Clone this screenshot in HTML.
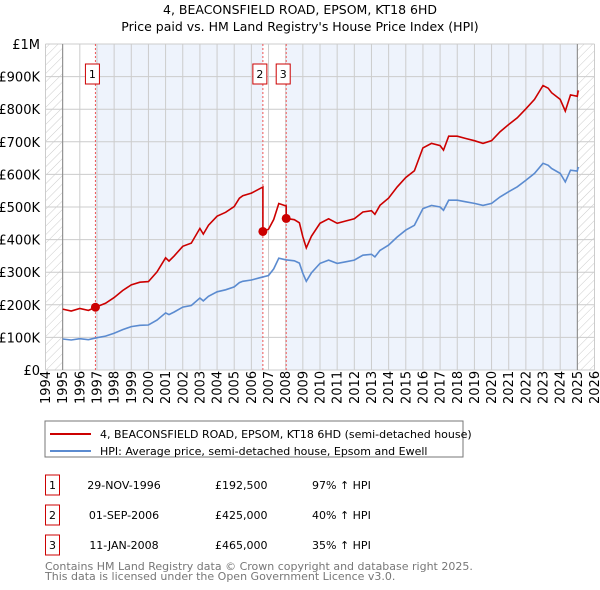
<!DOCTYPE html>
<html><head><meta charset="utf-8"><style>
body{margin:0;background:#fff;font-family:"DejaVu Sans","Liberation Sans",sans-serif;}
svg{display:block}
</style></head><body>
<svg id="c" width="600" height="590" font-family="DejaVu Sans, Liberation Sans, sans-serif">
<defs><pattern id="hatch" width="6" height="6" patternUnits="userSpaceOnUse" patternTransform="rotate(45)"><line x1="0" y1="0" x2="0" y2="6" stroke="#ccc" stroke-width="1"/></pattern></defs>
<text x="300" y="14" text-anchor="middle" font-size="12.5">4, BEACONSFIELD ROAD, EPSOM, KT18 6HD</text>
<text x="300" y="31" text-anchor="middle" font-size="12.5">Price paid vs. HM Land Registry's House Price Index (HPI)</text>
<g id="plot"></g>
<rect x="45" y="421" width="418" height="36" fill="#fff" stroke="#777"/>
<line x1="50" y1="434" x2="91" y2="434" stroke="#cc0000" stroke-width="2"/>
<text x="100" y="438" font-size="11">4, BEACONSFIELD ROAD, EPSOM, KT18 6HD (semi-detached house)</text>
<line x1="50" y1="451" x2="91" y2="451" stroke="#5b8bd0" stroke-width="2"/>
<text x="100" y="455" font-size="11">HPI: Average price, semi-detached house, Epsom and Ewell</text>
<g font-size="11" id="tbl"></g>
<text x="45" y="570" font-size="11" fill="#777">Contains HM Land Registry data © Crown copyright and database right 2025.</text>
<text x="45" y="580" font-size="11" fill="#777">This data is licensed under the Open Government Licence v3.0.</text>
</svg>
<script>
const hpiYears=[1995,1995.5,1996,1996.5,1997,1997.5,1998,1998.5,1999,1999.5,2000,2000.5,2001,2001.2,2001.5,2002,2002.5,2003,2003.2,2003.5,2004,2004.5,2005,2005.3,2005.5,2006,2006.5,2007,2007.3,2007.6,2008,2008.5,2008.8,2009,2009.2,2009.5,2010,2010.5,2011,2011.5,2012,2012.5,2013,2013.2,2013.5,2014,2014.5,2015,2015.5,2016,2016.5,2017,2017.2,2017.5,2018,2018.5,2019,2019.5,2020,2020.5,2021,2021.5,2022,2022.5,2023,2023.3,2023.5,2024,2024.3,2024.6,2025,2025.05];
const hpiValues=[95,92,96,93,99,104,113,124,133,137,138,153,175,170,178,193,198,221,212,226,240,246,255,268,272,276,283,290,310,343,338,335,328,297,272,298,327,337,327,332,337,352,355,347,367,383,408,429,444,495,505,500,490,521,521,516,511,505,511,531,547,562,582,603,634,628,618,603,577,613,610,623];
const saleDates=[1996.91,2006.67,2008.03];
const salePrices=[192.5,425,465];
const saleLabels=["1","2","3"];
const saleDateText=["29-NOV-1996","01-SEP-2006","11-JAN-2008"];
const salePriceText=["£192,500","£425,000","£465,000"];
const saleHpiText=["97% ↑ HPI","40% ↑ HPI","35% ↑ HPI"];
const yTicks=[0,100,200,300,400,500,600,700,800,900,1000];
const yTickLabels=["£0","£100K","£200K","£300K","£400K","£500K","£600K","£700K","£800K","£900K","£1M"];
const xTicks=[1994,1995,1996,1997,1998,1999,2000,2001,2002,2003,2004,2005,2006,2007,2008,2009,2010,2011,2012,2013,2014,2015,2016,2017,2018,2019,2020,2021,2022,2023,2024,2025,2026];

const NS="http://www.w3.org/2000/svg";
const X0=45.5,X1=594.5,Y0=370,Y1=44;
const xs=t=>X0+(t-1994)/(2026-1994)*(X1-X0);
const ys=v=>Y0-v/1000*(Y0-Y1);
const g=document.getElementById('plot');
function mk(tag,a,parent){const e=document.createElementNS(NS,tag);for(const k in a)e.setAttribute(k,a[k]);(parent||g).appendChild(e);return e;}
function hpiAt(t){for(let i=0;i<hpiYears.length-1;i++){if(t>=hpiYears[i]&&t<=hpiYears[i+1]){const f=(t-hpiYears[i])/(hpiYears[i+1]-hpiYears[i]);return hpiValues[i]+f*(hpiValues[i+1]-hpiValues[i]);}}return hpiValues[hpiValues.length-1];}

let e;
e=mk('rect',{x:xs(1994),y:Y1,width:xs(1995)-xs(1994),height:Y0-Y1,fill:'url(#hatch)'});

e=mk('rect',{x:xs(2025),y:Y1,width:xs(2026)-xs(2025),height:Y0-Y1,fill:'url(#hatch)'});

e=mk('rect',{x:xs(saleDates[0]),y:Y1,width:xs(saleDates[1])-xs(saleDates[0]),height:Y0-Y1,fill:'#eef3fc'});

e=mk('rect',{x:xs(saleDates[2]),y:Y1,width:xs(2025)-xs(saleDates[2]),height:Y0-Y1,fill:'#eef3fc'});

yTicks.forEach((v,i)=>{
  e=mk('line',{x1:X0,x2:X1,y1:ys(v),y2:ys(v),stroke:'#ccc'});
  
  e=mk('text',{x:40,y:ys(v)+5,'text-anchor':'end','font-size':13});e.textContent=yTickLabels[i];
  
});
xTicks.forEach(t=>{
  e=mk('line',{x1:xs(t),x2:xs(t),y1:Y1,y2:Y0,stroke:'#ccc'});
  
  e=mk('text',{x:xs(t)+4.5,y:404,'font-size':13,transform:`rotate(-90 ${xs(t)+4.5} 404)`});e.textContent=t;
  
});
e=mk('line',{x1:xs(1995),x2:xs(1995),y1:Y1,y2:Y0,stroke:'#888'});

e=mk('line',{x1:xs(2025),x2:xs(2025),y1:Y1,y2:Y0,stroke:'#888'});

saleDates.forEach((d,i)=>{
  e=mk('line',{x1:xs(d),x2:xs(d),y1:Y1,y2:Y0,stroke:'#e55','stroke-dasharray':'2,2'});
  
});
let hp=hpiYears.map((t,i)=>xs(t).toFixed(1)+','+ys(hpiValues[i]).toFixed(1)).join(' ');
e=mk('polyline',{points:hp,fill:'none',stroke:'#5b8bd0','stroke-width':1.6});

const ratios=saleDates.map((d,i)=>salePrices[i]/hpiAt(d));
function ratioAt(t){let r=ratios[0];for(let i=0;i<saleDates.length;i++)if(t>=saleDates[i])r=ratios[i];return r;}
let pts=[];
const tt=[...hpiYears];
saleDates.forEach((d,i)=>{tt.push(d);tt.push(d-0.001);});
tt.sort((a,b)=>a-b);
tt.forEach(t=>pts.push(xs(t).toFixed(1)+','+ys(hpiAt(t)*ratioAt(t)).toFixed(1)));
e=mk('polyline',{points:pts.join(' '),fill:'none',stroke:'#cc0000','stroke-width':1.6});

saleDates.forEach((d,i)=>{
  e=mk('circle',{cx:xs(d),cy:ys(salePrices[i]),r:4.5,fill:'#cc0000'});
  
  e=mk('rect',{x:xs(d)-10,y:64,width:14,height:20,fill:'#fff',stroke:'#cc0000'});
  
  e=mk('text',{x:xs(d)-3,y:78,'text-anchor':'middle','font-size':11});e.textContent=saleLabels[i];
  
});
const tb=document.getElementById('tbl');
const rowY=[487,517,547];
saleLabels.forEach((l,i)=>{
  e=mk('rect',{x:45.5,y:rowY[i]-12,width:14,height:20,fill:'#fff',stroke:'#cc0000'},tb);
  
  e=mk('text',{x:52.5,y:rowY[i]+2,'text-anchor':'middle'},tb);e.textContent=l;
  
  e=mk('text',{x:124,y:rowY[i]+2,'text-anchor':'middle'},tb);e.textContent=saleDateText[i];
  
  e=mk('text',{x:215,y:rowY[i]+2},tb);e.textContent=salePriceText[i];
  
  e=mk('text',{x:312,y:rowY[i]+2},tb);e.textContent=saleHpiText[i];
  
});
</script>
</body></html>
